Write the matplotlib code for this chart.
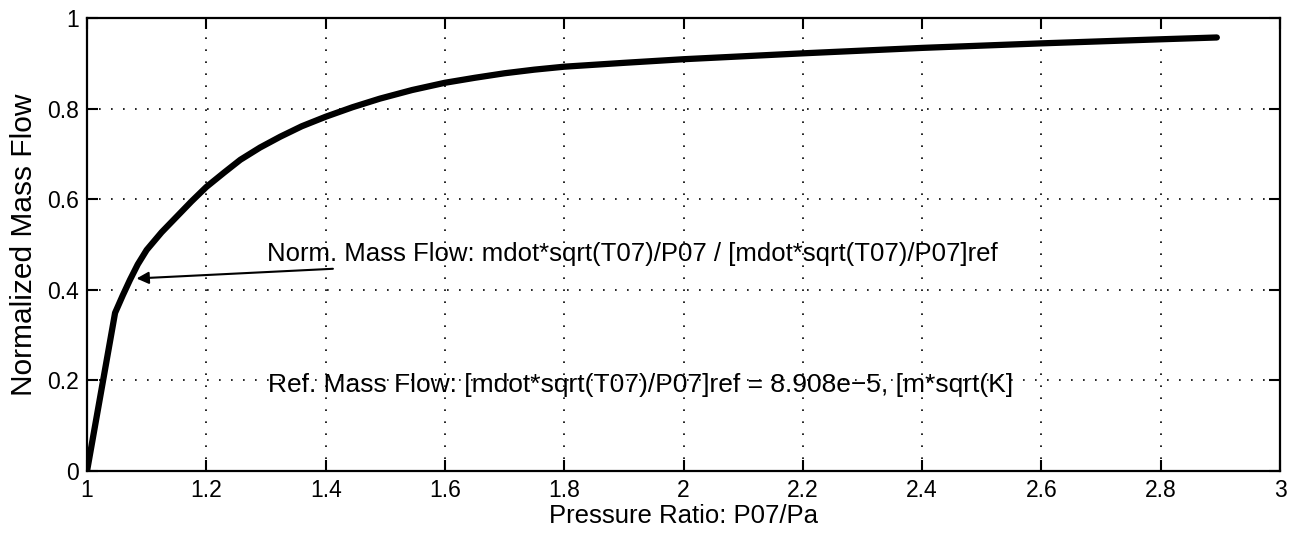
import matplotlib
matplotlib.use("Agg")
import matplotlib.pyplot as plt

plt.rcParams['font.family'] = ['Liberation Sans', 'DejaVu Sans']

pressure_ratio = [1.0, 1.047, 1.060, 1.072, 1.085, 1.100, 1.125, 1.150, 1.175, 1.200,
                  1.230, 1.257, 1.290, 1.324, 1.360, 1.400, 1.445, 1.491, 1.545, 1.600,
                  1.650, 1.700, 1.750, 1.800, 1.900, 2.000, 2.200, 2.400, 2.600, 2.800,
                  2.894]
mass_flow = [0.0, 0.349, 0.388, 0.422, 0.456, 0.488, 0.527, 0.561, 0.595, 0.627,
             0.659, 0.687, 0.714, 0.738, 0.761, 0.782, 0.803, 0.822, 0.841, 0.857,
             0.868, 0.878, 0.886, 0.8925, 0.901, 0.909, 0.922, 0.934, 0.944, 0.953,
             0.957]

xticks = [1, 1.2, 1.4, 1.6, 1.8, 2, 2.2, 2.4, 2.6, 2.8, 3]
xticklabels = ['1', '1.2', '1.4', '1.6', '1.8', '2', '2.2', '2.4', '2.6', '2.8', '3']
yticks = [0, 0.2, 0.4, 0.6, 0.8, 1]
yticklabels = ['0', '0.2', '0.4', '0.6', '0.8', '1']

fig = plt.figure(figsize=(13.01, 5.42), dpi=100)
ax = fig.add_axes([0.0669, 0.131, 0.917, 0.8358])

ax.plot(pressure_ratio, mass_flow, color='black', lw=4.5, solid_capstyle='round',
        solid_joinstyle='round')

ax.set_xlim(1, 3)
ax.set_ylim(0, 1)
ax.set_xticks(xticks)
ax.set_xticklabels(xticklabels)
ax.set_yticks(yticks)
ax.set_yticklabels(yticklabels)
ax.tick_params(direction='in', length=8, width=1.5, top=True, right=True,
               labelsize=16.5, pad=6, colors='black')
for s in ax.spines.values():
    s.set_linewidth(1.6)
ax.grid(True, color='black', linestyle=(0, (1, 6.2)), lw=1.2)

ax.set_xlabel('Pressure Ratio: P07/Pa', fontsize=18.5, labelpad=1)
ax.set_ylabel('Normalized Mass Flow', fontsize=21.5, labelpad=6)

ax.annotate('Norm. Mass Flow: mdot*sqrt(T07)/P07 / [mdot*sqrt(T07)/P07]ref',
            xy=(1.083, 0.425), xytext=(1.302, 0.479), fontsize=18.5,
            va='center', ha='left',
            arrowprops=dict(arrowstyle='-|>', color='black', lw=1.5,
                            mutation_scale=18, shrinkA=0, shrinkB=0))
ax.text(1.303, 0.19, 'Ref. Mass Flow: [mdot*sqrt(T07)/P07]ref = 8.908e\u22125, [m*sqrt(K]',
        fontsize=19, va='center', ha='left')

fig.savefig('out.png', dpi=100)
